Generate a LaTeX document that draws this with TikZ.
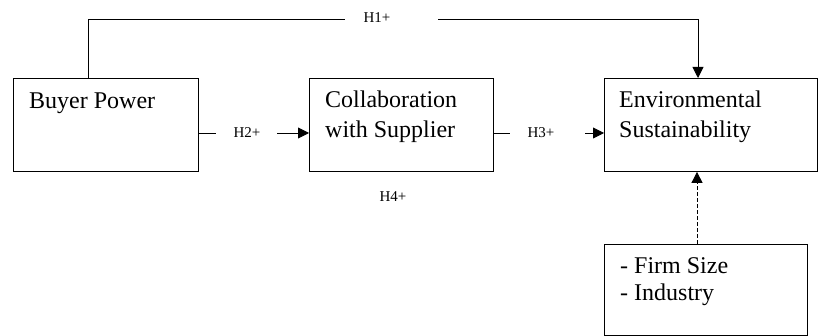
\documentclass[tikz,border=0pt]{standalone}
\usepackage{fontspec}
\setmainfont{Liberation Serif}
\usetikzlibrary{arrows.meta}
\begin{document}
\begin{tikzpicture}[x=1pt,y=-1pt,
  box/.style={draw,line width=0.9pt,inner sep=0pt,anchor=north west},
  big/.style={font=\fontsize{24}{30}\selectfont,inner sep=0pt,anchor=base west},
  hlab/.style={font=\fontsize{15}{18}\selectfont,inner sep=0pt},
  conn/.style={line width=0.9pt},
  arr/.style={line width=0.9pt,-{Triangle[length=11pt,width=11pt]}},
  dsh/.style={dash pattern=on 4pt off 2pt}]
\useasboundingbox (0,0) rectangle (818,336);
% boxes
\node[box,minimum width=185pt,minimum height=93pt] (bp) at (13,78) {};
\node[box,minimum width=184pt,minimum height=93pt] (cs) at (309,78) {};
\node[box,minimum width=213pt,minimum height=93pt] (es) at (604,78) {};
\node[box,minimum width=203pt,minimum height=91pt] (cv) at (604,244) {};
% texts
\node[big] (t1) at (29,109) {Buyer Power};
\node[big] (t2) at (325,108) {Collaboration};
\node[big] (t3) at (325,138) {with Supplier};
\node[big] (t4) at (619,108) {Environmental};
\node[big] (t5) at (619,138) {Sustainability};
\node[big] (t6) at (620,273) {- Firm Size};
\node[big] (t7) at (620,301) {- Industry};
% labels
\node[hlab] (h1) at (377,18) {H1+};
\node[hlab] (h2) at (247,133) {H2+};
\node[hlab] (h3) at (541,133) {H3+};
\node[hlab] (h4) at (393,197) {H4+};
% coordinates
\coordinate (h1a) at (345,19);
\coordinate (h1b) at (438,19);
\coordinate (h2a) at (216,133);
\coordinate (h2b) at (277,133);
\coordinate (h3a) at (510,133);
\coordinate (h3b) at (585,133);
% H1
\draw[conn] (bp.north west -| 88,0) |- (h1a);
\draw[arr] (h1b) -| (es.north west -| 698,0);
% H2
\draw[conn] (bp.south east |- h2a) -- (h2a);
\draw[arr] (h2b) -- (cs.south west |- h2b);
% H3
\draw[conn] (cs.south east |- h3a) -- (h3a);
\draw[arr] (h3b) -- (es.south west |- h3b);
% controls
\draw[arr,dsh] (cv.north west -| 697,0) -- (es.south west -| 697,0);
\end{tikzpicture}
\end{document}
